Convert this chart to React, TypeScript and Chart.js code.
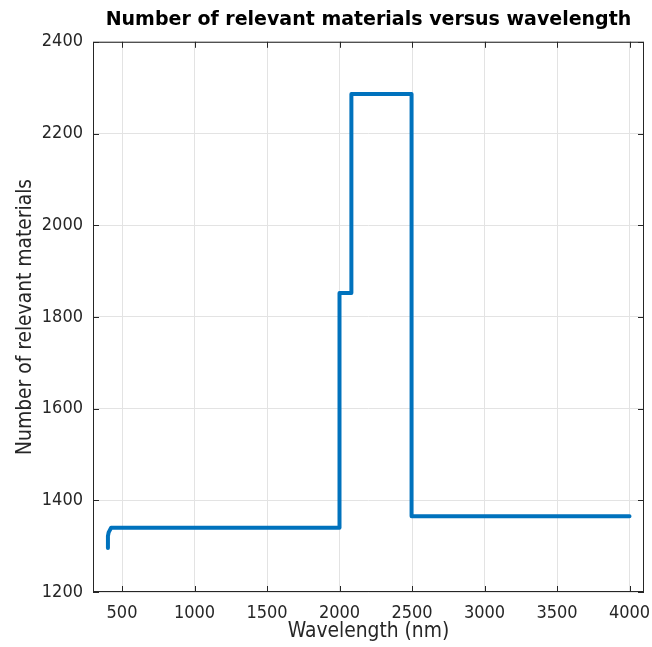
import React, { useEffect, useRef } from "react";
import { Chart, registerables } from "chart.js";

Chart.register(...registerables);

// Wavelength (nm) and number of relevant materials (step curve vertices)
const wavelengths = [403, 403, 408, 425, 2000, 2000, 2082, 2082, 2497, 2497, 4000];
const materialCounts = [1296, 1322, 1330, 1340, 1340, 1852, 1852, 2286, 2286, 1365, 1365];

const xTicks = [500, 1000, 1500, 2000, 2500, 3000, 3500, 4000];
const yTicks = [1200, 1400, 1600, 1800, 2000, 2200, 2400];

const TICK_FONT = "'DejaVu Sans Condensed', 'DejaVu Sans', sans-serif";
const TITLE_FONT = "'DejaVu Sans', Verdana, sans-serif";

const framePlugin = {
  id: "frame",
  afterDatasetsDraw(chart: any) {
    const { ctx, chartArea: a, scales } = chart;
    const len = 6;
    ctx.save();
    ctx.strokeStyle = "#262626";
    ctx.lineWidth = 1;
    ctx.beginPath();
    for (const v of xTicks) {
      const px = Math.round(scales.x.getPixelForValue(v)) + 0.5;
      ctx.moveTo(px, a.bottom);
      ctx.lineTo(px, a.bottom - len);
      ctx.moveTo(px, a.top);
      ctx.lineTo(px, a.top + len);
    }
    for (const v of yTicks) {
      const py = Math.round(scales.y.getPixelForValue(v)) + 0.5;
      ctx.moveTo(a.left, py);
      ctx.lineTo(a.left + len, py);
      ctx.moveTo(a.right, py);
      ctx.lineTo(a.right - len, py);
    }
    ctx.stroke();
    ctx.strokeRect(a.left + 0.5, a.top + 0.5, a.right - a.left - 1, a.bottom - a.top - 1);
    ctx.restore();
  },
};

export default function App() {
  const ref = useRef<HTMLCanvasElement | null>(null);

  useEffect(() => {
    document.body.style.margin = "0";
    const canvas = ref.current;
    if (!canvas) return;
    const chart = new Chart(canvas, {
      type: "line",
      data: {
        datasets: [
          {
            data: wavelengths.map((x, i) => ({ x, y: materialCounts[i] })),
            borderColor: "#0072BD",
            borderWidth: 4,
            borderJoinStyle: "round",
            borderCapStyle: "round",
            pointRadius: 0,
            tension: 0,
            fill: false,
          },
        ],
      },
      options: {
        responsive: false,
        animation: false,
        layout: { padding: { left: 0, right: 8, top: 0, bottom: 0 } },
        plugins: {
          legend: { display: false },
          tooltip: { enabled: false },
          title: {
            display: true,
            text: "Number of relevant materials versus wavelength",
            fullSize: false,
            color: "#000000",
            font: { family: TITLE_FONT, size: 19, weight: "bold" },
            padding: { top: 9, bottom: 10 },
          },
        },
        scales: {
          x: {
            type: "linear",
            min: 300,
            max: 4100,
            afterBuildTicks: (s: any) => {
              s.ticks = xTicks.map((v) => ({ value: v }));
            },
            afterFit: (s: any) => {
              s.height = 55;
              s.paddingLeft = 0;
              s.paddingRight = 0;
            },
            grid: { color: "#e3e3e3", drawTicks: false },
            border: { display: false },
            ticks: {
              color: "#262626",
              padding: 11,
              maxRotation: 0,
              autoSkip: false,
              font: { family: TICK_FONT, size: 18 },
              callback: (v: any) => String(v),
            },
            title: {
              display: true,
              text: "Wavelength (nm)",
              color: "#262626",
              font: { family: TICK_FONT, size: 20.8 },
              padding: { top: 0, bottom: 3 },
            },
          },
          y: {
            type: "linear",
            min: 1200,
            max: 2400,
            afterBuildTicks: (s: any) => {
              s.ticks = yTicks.map((v) => ({ value: v }));
            },
            afterFit: (s: any) => {
              s.width = 93;
              s.paddingTop = 0;
              s.paddingBottom = 0;
            },
            grid: { color: "#e3e3e3", drawTicks: false },
            border: { display: false },
            ticks: {
              color: "#262626",
              padding: 10,
              autoSkip: false,
              font: { family: TICK_FONT, size: 18 },
              callback: (v: any) => String(v),
            },
            title: {
              display: true,
              text: "Number of relevant materials",
              color: "#262626",
              font: { family: TICK_FONT, size: 20.8 },
              padding: { top: 13, bottom: 0 },
            },
          },
        },
      },
      plugins: [framePlugin],
    });
    return () => chart.destroy();
  }, []);

  return <canvas ref={ref} width={652} height={647} style={{ display: "block" }} />;
}
